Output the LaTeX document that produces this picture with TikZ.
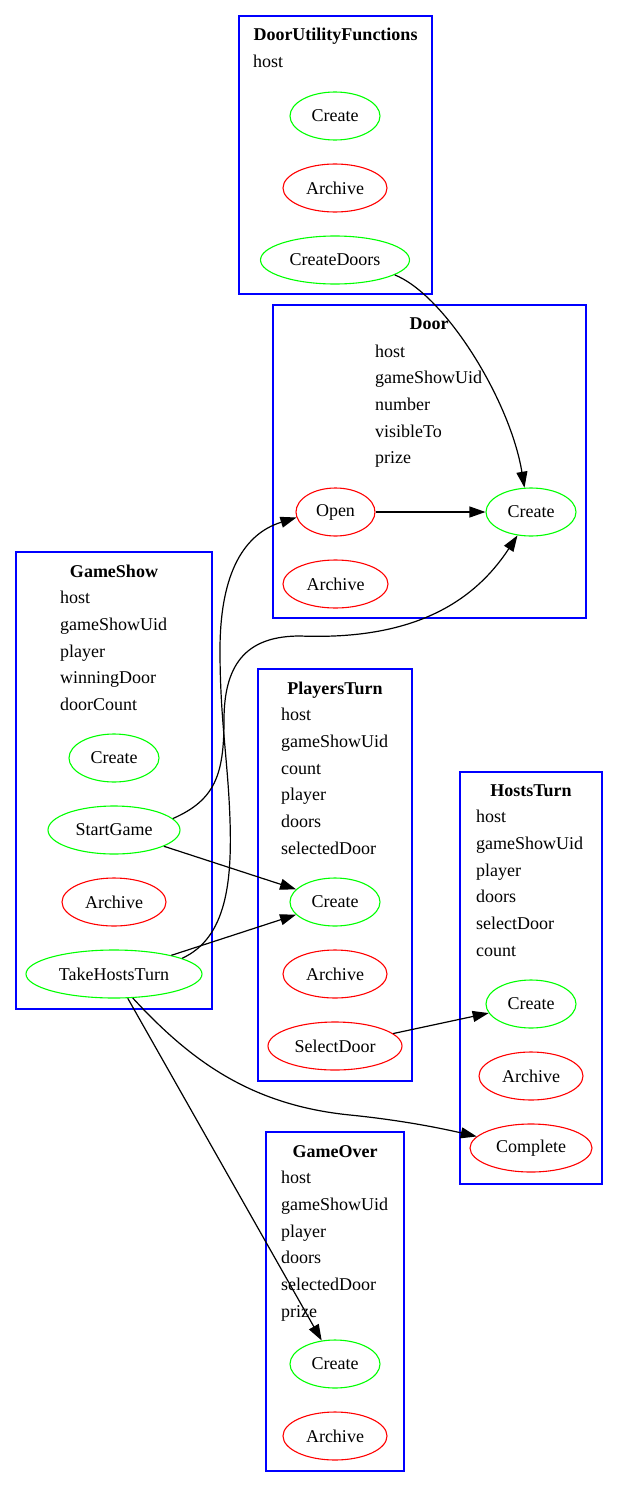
\documentclass[tikz,border=0pt]{standalone}
\usepackage{fontspec}
\setmainfont{Liberation Serif}
\usetikzlibrary{shapes.geometric,arrows.meta}
\definecolor{gvblue}{RGB}{0,0,255}
\definecolor{gvgreen}{RGB}{0,255,0}
\definecolor{gvred}{RGB}{255,0,0}
\begin{document}
\begin{tikzpicture}[x=1pt,y=-1pt,
  every node/.style={font=\fontsize{18}{22}\selectfont},
  cluster/.style={draw=gvblue,line width=1.2pt},
  ctitle/.style={anchor=base,inner sep=0,font=\fontsize{18}{22}\selectfont\bfseries},
  attr/.style={anchor=base west,inner sep=0},
  okop/.style={ellipse,draw=gvgreen,line width=1.1pt,minimum height=48pt,inner sep=0},
  koop/.style={ellipse,draw=gvred,line width=1.1pt,minimum height=48pt,inner sep=0},
  conn/.style={-{Triangle[length=16pt,width=11pt]},line width=1.2pt,black}
]
\useasboundingbox (0,0) rectangle (618,1488);

% ---------- DoorUtilityFunctions ----------
\draw[cluster] (239,16) rectangle (432,294);
\node[ctitle] (dufT) at (335.5,41) {DoorUtilityFunctions};
\node[attr] (dufA1) at (253,67.7) {host};
\node[okop,minimum width=90pt] (dufCreate) at (335,116) {Create};
\node[koop,minimum width=104pt] (dufArchive) at (335,188) {Archive};
\node[okop,minimum width=149pt] (dufCreateDoors) at (335,260) {CreateDoors};

% ---------- Door ----------
\draw[cluster] (273,305) rectangle (586,618);
\node[ctitle] (doorT) at (429,329) {Door};
\node[attr] (doorA1) at (375,357) {host};
\node[attr] (doorA2) at (375,383.7) {gameShowUid};
\node[attr] (doorA3) at (375,410.4) {number};
\node[attr] (doorA4) at (375,437.1) {visibleTo};
\node[attr] (doorA5) at (375,463.8) {prize};
\node[koop,minimum width=79pt] (doorOpen) at (335.5,512) {Open};
\node[okop,minimum width=90pt] (doorCreate) at (531,512) {Create};
\node[koop,minimum width=105pt] (doorArchive) at (335.5,584) {Archive};

% ---------- GameShow ----------
\draw[cluster] (16,552) rectangle (212,1009);
\node[ctitle] (gsT) at (114,577) {GameShow};
\node[attr] (gsA1) at (60,603.7) {host};
\node[attr] (gsA2) at (60,630.4) {gameShowUid};
\node[attr] (gsA3) at (60,657.1) {player};
\node[attr] (gsA4) at (60,683.8) {winningDoor};
\node[attr] (gsA5) at (60,710.5) {doorCount};
\node[okop,minimum width=90pt] (gsCreate) at (114,758) {Create};
\node[okop,minimum width=132pt] (gsStart) at (114,830) {StartGame};
\node[koop,minimum width=104pt] (gsArchive) at (114,902) {Archive};
\node[okop,minimum width=176pt] (gsTake) at (114,974) {TakeHostsTurn};

% ---------- PlayersTurn ----------
\draw[cluster] (258,669) rectangle (412,1081);
\node[ctitle] (ptT) at (335,694) {PlayersTurn};
\node[attr] (ptA1) at (281,720.7) {host};
\node[attr] (ptA2) at (281,747.4) {gameShowUid};
\node[attr] (ptA3) at (281,774.1) {count};
\node[attr] (ptA4) at (281,800.8) {player};
\node[attr] (ptA5) at (281,827.5) {doors};
\node[attr] (ptA6) at (281,854.2) {selectedDoor};
\node[okop,minimum width=90pt] (ptCreate) at (335,902) {Create};
\node[koop,minimum width=104pt] (ptArchive) at (335,974) {Archive};
\node[koop,minimum width=134pt] (ptSelect) at (335,1046) {SelectDoor};

% ---------- HostsTurn ----------
\draw[cluster] (460,772) rectangle (602,1184);
\node[ctitle] (htT) at (531,796) {HostsTurn};
\node[attr] (htA1) at (476,822.7) {host};
\node[attr] (htA2) at (476,849.4) {gameShowUid};
\node[attr] (htA3) at (476,876.1) {player};
\node[attr] (htA4) at (476,902.8) {doors};
\node[attr] (htA5) at (476,929.5) {selectDoor};
\node[attr] (htA6) at (476,956.2) {count};
\node[okop,minimum width=90pt] (htCreate) at (531,1004) {Create};
\node[koop,minimum width=104pt] (htArchive) at (531,1076) {Archive};
\node[koop,minimum width=122pt] (htComplete) at (531,1148) {Complete};

% ---------- GameOver ----------
\draw[cluster] (266,1132) rectangle (404,1471);
\node[ctitle] (goT) at (335,1157) {GameOver};
\node[attr] (goA1) at (281,1183.7) {host};
\node[attr] (goA2) at (281,1210.4) {gameShowUid};
\node[attr] (goA3) at (281,1237.1) {player};
\node[attr] (goA4) at (281,1263.8) {doors};
\node[attr] (goA5) at (281,1290.5) {selectedDoor};
\node[attr] (goA6) at (281,1317.2) {prize};
\node[okop,minimum width=90pt] (goCreate) at (335,1364) {Create};
\node[koop,minimum width=104pt] (goArchive) at (335,1436) {Archive};

% ---------- connectors ----------
\draw[conn] (dufCreateDoors.-14) .. controls (445,295) and (510,400) .. (doorCreate.105);
\draw[conn] (doorOpen) -- (doorCreate);
\draw[conn] (gsStart.11) .. controls (215,800) and (224,775) .. (224,720)
  .. controls (224,660) and (250,636) .. (300,636)
  .. controls (405,640) and (470,608) .. (doorCreate.240);
\draw[conn] (gsTake.13) .. controls (227,938) and (232,880) .. (230,820)
  .. controls (228,760) and (220,720) .. (220,650)
  .. controls (220,580) and (240,535) .. (doorOpen.188);
\draw[conn] (gsStart) -- (ptCreate);
\draw[conn] (gsTake) -- (ptCreate);
\draw[conn] (ptSelect) -- (htCreate);
\draw[conn] (gsTake.-52) .. controls (190,1060) and (250,1105) .. (350,1115)
  .. controls (400,1120) and (440,1128) .. (htComplete.168);
\draw[conn] (gsTake) -- (goCreate);
\end{tikzpicture}
\end{document}
